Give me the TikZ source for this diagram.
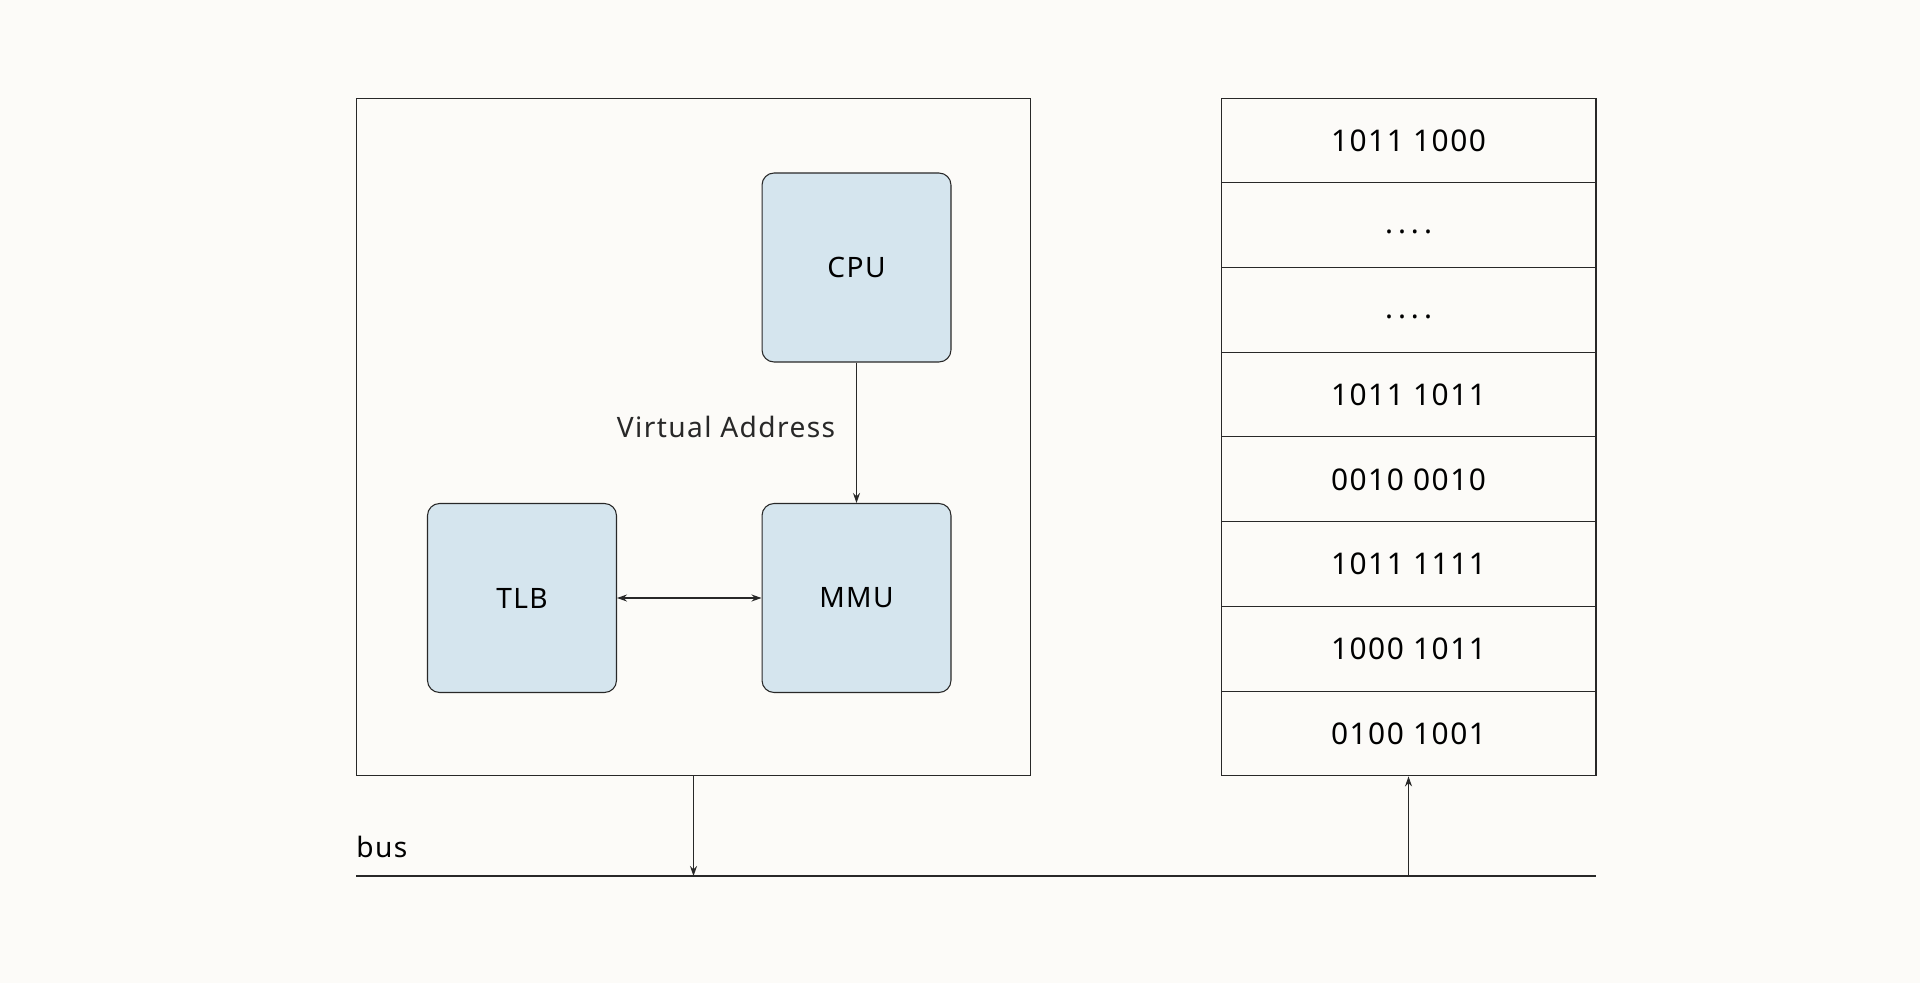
\documentclass[tikz,border=0pt]{standalone}
\usepackage{fontspec}
\setmainfont[LetterSpace=5]{Noto Sans}
\usepackage{tikz}
\usetikzlibrary{arrows.meta,shapes,positioning}
\usepackage{xcolor}
\definecolor{pgbg}{RGB}{252,251,248}
\definecolor{pgline}{RGB}{40,40,40}
\definecolor{hwblue}{RGB}{213,229,238}
\newcommand{\memdots}{\raisebox{0.04cm}{.\hspace{0.1cm}.\hspace{0.1cm}.\hspace{0.1cm}.}}
\tikzstyle{arrow} = [line width=0.6pt,-{Stealth[length=0.2cm,width=0.14cm]},color=pgline]
\tikzstyle{hwunit} = [rectangle, rounded corners=0.24cm, minimum width=3.78cm, minimum height=3.78cm, text centered, draw=pgline, fill=hwblue, line width=0.6pt, font=\fontsize{16}{19}\selectfont]
\tikzstyle{memcell} = [rectangle, minimum width=7.5cm, minimum height=1.695cm, text height=0.5cm, text depth=0.07cm, text centered, draw=pgline, line width=0.6pt, font=\fontsize{17}{20}\selectfont]

\begin{document}
\begin{tikzpicture}[x=0.02cm, y=-0.02cm]
\useasboundingbox[fill=pgbg] (0,0) rectangle (1920,983);

% Chip
\node (chip) [rectangle, draw=pgline, line width=0.6pt, minimum width=13.5cm, minimum height=13.56cm] at (693.5,437) {};
\node (cpu) [hwunit] at (856.5,267.5) {CPU};
\node (mmu) [hwunit] at (856.5,598) {MMU};
\node (tlb) [hwunit] at (522,598) {TLB};

% Memory
\node (mem1) [memcell] at (1408.5,140.4) {1011 1000};
\node (mem2) [memcell, below of=mem1, node distance=1.695cm] {\memdots};
\node (mem3) [memcell, below of=mem2, node distance=1.695cm] {\memdots};
\node (mem4) [memcell, below of=mem3, node distance=1.695cm] {1011 1011};
\node (mem5) [memcell, below of=mem4, node distance=1.695cm] {0010 0010};
\node (mem6) [memcell, below of=mem5, node distance=1.695cm] {1011 1111};
\node (mem7) [memcell, below of=mem6, node distance=1.695cm] {1000 1011};
\node (mem8) [memcell, below of=mem7, node distance=1.695cm] {0100 1001};

% Bus
\coordinate (busl) at (356,876);
\coordinate (busr) at (1596,876);
\draw[line width=0.6pt, color=pgline] (busl) -- (busr);
\node (buslabel) [anchor=base west, inner sep=0pt, font=\fontsize{16}{19}\selectfont] at (356,857) {bus};

% Connections
\draw[arrow] (cpu) -- (mmu) node (va) [midway, anchor=east, xshift=-0.3cm, yshift=0.12cm, font=\fontsize{16}{19}\selectfont] {Virtual Address};
\draw[arrow, {Stealth[length=0.2cm,width=0.14cm]}-{Stealth[length=0.2cm,width=0.14cm]}] (tlb) -- (mmu);
\draw[arrow] (chip.south) -- (chip.south |- busl);
\draw[arrow] (mem8.south |- busl) -- (mem8.south);
\end{tikzpicture}
\end{document}
